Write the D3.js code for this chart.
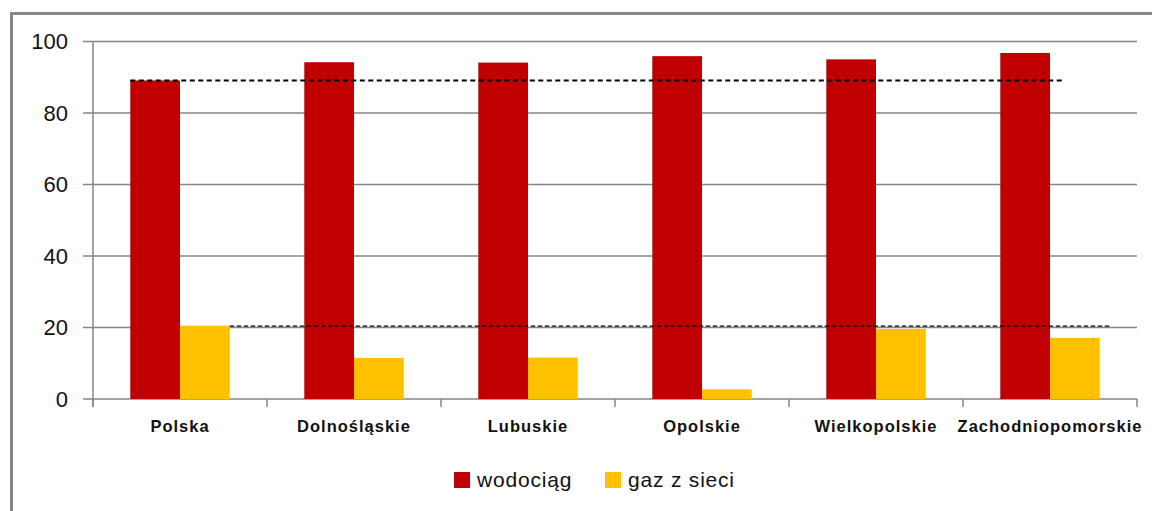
<!DOCTYPE html>
<html>
<head>
<meta charset="utf-8">
<script src="https://cdn.jsdelivr.net/npm/d3@7"></script>
<style>
  body { margin: 0; background: #fff; }
  #screen { width: 1152px; height: 511px; }
</style>
</head>
<body>
<div id="screen"></div>
<script>
const categories = ['Polska', 'Dolnośląskie', 'Lubuskie', 'Opolskie', 'Wielkopolskie', 'Zachodniopomorskie']
const seriesNames = ['wodociąg', 'gaz z sieci']
const wodociag = [89.1, 94.2, 94.1, 95.9, 95.0, 96.8]
const gaz = [20.5, 11.5, 11.6, 2.7, 19.6, 17.1]
const yTicks = [0, 20, 40, 60, 80, 100]
// linie odniesienia = wartości dla Polski, koniec jako ułamek ostatniej kategorii
const refValues = [89.1, 20.4]
const refEndFrac = [0.57, 0.845]

const colors = ['#c00000', '#ffc000']
const width = 1152
const height = 511
const margin = { top: 41.5, right: 15, bottom: 112, left: 93 }

const container = d3.select('#screen')
container.selectAll('*').remove()
const svg = container.append('svg')
  .attr('width', width)
  .attr('height', height)

// ramka wykresu (ucięta z prawej i od dołu)
svg.append('rect')
  .attr('x', 11.5).attr('y', 13.5)
  .attr('width', width + 20).attr('height', height + 20)
  .attr('fill', 'none')
  .attr('stroke', '#868686')
  .attr('stroke-width', 3)

const x = d3.scaleBand()
  .domain(categories)
  .range([margin.left, width - margin.right])
  .padding(0)

const x1 = d3.scaleBand()
  .domain(seriesNames)
  .range([0, x.bandwidth()])
  .paddingInner(0)
  .paddingOuter(0.75)

const y = d3.scaleLinear()
  .domain([0, 100])
  .range([height - margin.bottom, margin.top])

// siatka
svg.append('g')
  .selectAll('line')
  .data(yTicks)
  .join('line')
  .attr('x1', margin.left - 10)
  .attr('x2', width - margin.right)
  .attr('y1', d => y(d))
  .attr('y2', d => y(d))
  .attr('stroke', '#868686')
  .attr('stroke-width', 1.5)

// oś Y
svg.append('line')
  .attr('x1', margin.left).attr('x2', margin.left)
  .attr('y1', y(100)).attr('y2', y(0) + 8)
  .attr('stroke', '#868686')
  .attr('stroke-width', 1.5)

svg.append('g')
  .selectAll('text')
  .data(yTicks)
  .join('text')
  .attr('x', 68)
  .attr('y', d => y(d))
  .attr('dy', '0.36em')
  .attr('text-anchor', 'end')
  .attr('font-family', "'Liberation Sans', sans-serif")
  .attr('font-size', '22px')
  .attr('fill', '#111')
  .text(d => d)

// znaczniki osi X
const bounds = categories.map(c => x(c)).concat([x(categories[categories.length - 1]) + x.bandwidth()])
svg.append('g')
  .selectAll('line')
  .data(bounds)
  .join('line')
  .attr('x1', d => d).attr('x2', d => d)
  .attr('y1', y(0)).attr('y2', y(0) + 8)
  .attr('stroke', '#868686')
  .attr('stroke-width', 1.5)

// słupki
const rows = categories.map((c, i) => ({ category: c, values: [wodociag[i], gaz[i]] }))
const groups = svg.append('g')
  .selectAll('g')
  .data(rows)
  .join('g')
  .attr('transform', d => `translate(${x(d.category)},0)`)

groups.selectAll('rect')
  .data(d => d.values.map((v, k) => ({ series: seriesNames[k], value: v, k })))
  .join('rect')
  .attr('x', d => x1(d.series))
  .attr('y', d => y(d.value))
  .attr('width', x1.bandwidth())
  .attr('height', d => y(0) - y(d.value))
  .attr('fill', d => colors[d.k])

// etykiety kategorii
svg.append('g')
  .selectAll('text')
  .data(categories)
  .join('text')
  .attr('x', d => x(d) + x.bandwidth() / 2)
  .attr('y', y(0) + 33)
  .attr('text-anchor', 'middle')
  .attr('font-family', "'Liberation Sans', sans-serif")
  .attr('font-weight', 'bold')
  .attr('font-size', '16.5px')
  .attr('letter-spacing', '1px')
  .attr('fill', '#111')
  .text(d => d)

// linie odniesienia (przerywane); górna od lewej krawędzi słupka wodociąg, dolna od prawej krawędzi słupka gaz
const last = categories[categories.length - 1]
const refStart = [
  x(categories[0]) + x1(seriesNames[0]),
  x(categories[0]) + x1(seriesNames[1]) + x1.bandwidth()
]
svg.append('g')
  .selectAll('line')
  .data(refValues)
  .join('line')
  .attr('x1', (d, i) => refStart[i])
  .attr('x2', (d, i) => x(last) + refEndFrac[i] * x.bandwidth())
  .attr('y1', d => y(d))
  .attr('y2', d => y(d))
  .attr('stroke', '#000')
  .attr('stroke-width', (d, i) => i === 0 ? 2 : 1.3)
  .attr('stroke-dasharray', (d, i) => i === 0 ? '5,3.5' : '4.5,2.5')

// legenda
const legend = svg.append('g')
const legendX = [454, 605]
seriesNames.forEach((s, i) => {
  legend.append('rect')
    .attr('x', legendX[i])
    .attr('y', 472)
    .attr('width', 16)
    .attr('height', 16)
    .attr('fill', colors[i])
  legend.append('text')
    .attr('x', legendX[i] + 23)
    .attr('y', 487)
    .attr('font-family', "'Liberation Sans', sans-serif")
    .attr('font-size', '21px')
    .attr('letter-spacing', '0.8px')
    .attr('fill', '#111')
    .text(s)
})
</script>
</body>
</html>
